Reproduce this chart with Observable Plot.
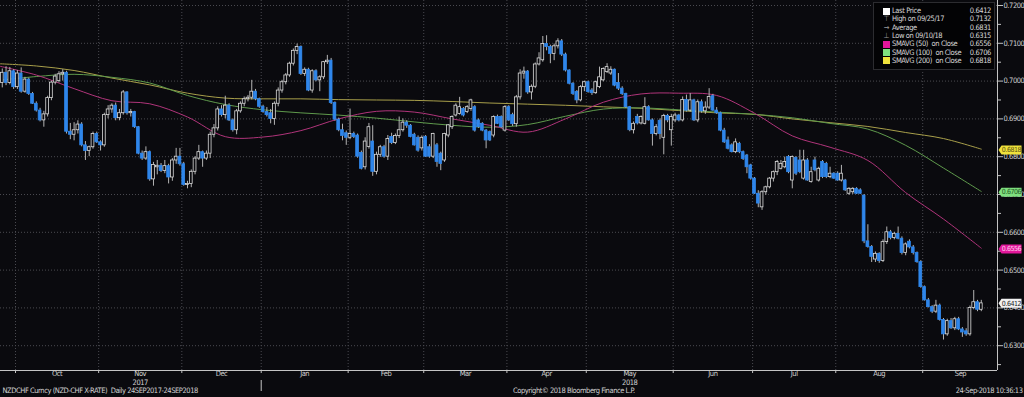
<!DOCTYPE html>
<html><head><meta charset="utf-8">
<script src="https://cdn.jsdelivr.net/npm/d3@7"></script>
<script src="https://cdn.jsdelivr.net/npm/@observablehq/plot@0.6"></script>
<style>
html,body{margin:0;padding:0;background:#0a0a0e;}
#wrap{position:relative;width:1024px;height:397px;overflow:hidden;}
#chart svg text{letter-spacing:-0.45px;}
#legend{position:absolute;left:873px;top:2px;width:120px;height:66px;background:#030305;border:1px solid #2c2c30;
 font-family:"Liberation Sans Narrow","DejaVu Sans Condensed","Liberation Sans",sans-serif;font-size:7.5px;color:#d8d8d8;letter-spacing:-0.4px;}
#legend .row{position:absolute;left:0;right:0;height:8px;line-height:8px;white-space:pre;}
#legend .sw{position:absolute;left:9px;top:0.5px;width:7px;height:7px;}
#legend .gl{position:absolute;left:9px;top:0;width:7px;text-align:center;color:#9a9a9a;letter-spacing:0;}
#legend .lb{position:absolute;left:18px;}
#legend .vl{position:absolute;right:3px;}
</style></head>
<body><div id="wrap"><div id="chart"></div><div id="legend"></div></div>
<script>
// ---- data ----
const open = [
.7132,.6995,.7022,.6995,.7026,.6984,.7020,.6972,.7004,.6966,
.6940,.6922,.6896,.6912,.6955,.6996,.7000,.7018,.7022,.6866,
.6858,.6870,.6885,.6830,.6815,.6825,.6860,.6838,.6830,.6910,
.6925,.6935,.6902,.6915,.6970,.6915,.6918,.6878,.6808,.6795,
.6812,.6740,.6772,.6776,.6762,.6775,.6745,.6790,.6800,.6780,
.6725,.6728,.6760,.6795,.6812,.6795,.6808,.6858,.6875,.6925,
.6910,.6935,.6896,.6870,.6920,.6940,.6952,.6956,.6972,.6952,
.6932,.6918,.6915,.6900,.6940,.6975,.6997,.7015,.7046,.7080,
.7090,.7019,.7030,.6975,.7026,.7002,.7010,.7050,.7054,.6942,
.6898,.6870,.6862,.6850,.6860,.6856,.6810,.6772,.6826,.6840,
.6760,.6805,.6825,.6800,.6852,.6836,.6855,.6870,.6890,.6882,
.6858,.6850,.6822,.6852,.6825,.6800,.6830,.6808,.6790,.6856,
.6878,.6909,.6913,.6926,.6918,.6926,.6931,.6896,.6887,.6869,
.6865,.6856,.6905,.6905,.6869,.6931,.6910,.6886,.6957,.7020,
.7025,.6970,.6985,.7044,.7055,.7098,.7090,.7072,.7092,.7105,
.7070,.7028,.6993,.6971,.6949,.6984,.6997,.6975,.6968,.6984,
.7002,.7024,.7020,.7030,.6995,.6980,.6966,.6931,.6870,.6905,
.6888,.6887,.6931,.6896,.6860,.6895,.6850,.6908,.6870,.6896,
.6909,.6896,.6950,.6922,.6949,.6896,.6944,.6920,.6930,.6960,
.6922,.6915,.6869,.6843,.6830,.6812,.6834,.6812,.6803,.6777,
.6742,.6702,.6666,.6706,.6719,.6742,.6759,.6768,.6772,.6799,
.6737,.6797,.6790,.6742,.6790,.6733,.6790,.6737,.6786,.6781,
.6746,.6755,.6755,.6737,.6737,.6702,.6706,.6715,.6711,.6697,
.6576,.6561,.6528,.6543,.6524,.6574,.6600,.6585,.6596,.6583,
.6545,.6575,.6560,.6545,.6521,.6455,.6420,.6402,.6390,.6406,
.6368,.6330,.6365,.6346,.6370,.6343,.6338,.6330,.6400,.6415,
.6395];
const high = [
.7132,.7032,.7038,.7036,.7030,.7028,.7035,.7010,.7008,.6970,
.6945,.6928,.6920,.6960,.7000,.7018,.7025,.7030,.7026,.6888,
.6890,.6895,.6890,.6840,.6828,.6865,.6865,.6842,.6915,.6935,
.6940,.6942,.6925,.6975,.6972,.6925,.6920,.6880,.6815,.6826,
.6815,.6785,.6790,.6782,.6790,.6780,.6795,.6822,.6822,.6785,
.6735,.6765,.6800,.6830,.6815,.6815,.6865,.6885,.6932,.6935,
.6960,.6940,.6900,.6925,.6945,.6958,.6962,.7002,.6978,.6955,
.6936,.6930,.6925,.6945,.6982,.7002,.7020,.7050,.7085,.7098,
.7093,.7035,.7034,.7030,.7030,.7014,.7052,.7068,.7060,.6945,
.6902,.6886,.6868,.6926,.6865,.6860,.6815,.6850,.6888,.6882,
.6812,.6830,.6830,.6856,.6862,.6860,.6905,.6900,.6895,.6885,
.6862,.6855,.6855,.6856,.6832,.6862,.6835,.6812,.6862,.6885,
.6908,.6940,.6957,.6930,.6935,.6952,.6935,.6900,.6890,.6872,
.6868,.6908,.6910,.6908,.6935,.6935,.6915,.6962,.7030,.7037,
.7028,.6990,.7048,.7075,.7118,.7120,.7095,.7098,.7112,.7110,
.7074,.7030,.6996,.6975,.6988,.7000,.7000,.6980,.7000,.7037,
.7035,.7046,.7038,.7032,.7020,.6985,.6968,.6933,.6892,.6912,
.6908,.6956,.6935,.6900,.6885,.6900,.6912,.6912,.6912,.6915,
.6912,.6958,.6963,.6967,.6952,.6950,.6950,.6945,.6980,.6965,
.6930,.6918,.6875,.6852,.6834,.6847,.6838,.6815,.6806,.6780,
.6745,.6710,.6710,.6722,.6745,.6762,.6790,.6790,.6799,.6803,
.6802,.6800,.6817,.6817,.6795,.6772,.6799,.6772,.6790,.6785,
.6772,.6758,.6760,.6777,.6740,.6718,.6718,.6718,.6715,.6700,
.6620,.6565,.6548,.6546,.6580,.6614,.6605,.6600,.6614,.6588,
.6572,.6580,.6565,.6548,.6525,.6458,.6425,.6406,.6420,.6410,
.6372,.6370,.6372,.6375,.6375,.6348,.6345,.6405,.6446,.6420,
.6420];
const low = [
.6985,.6982,.6988,.6990,.6978,.6978,.6968,.6968,.6962,.6938,
.6918,.6892,.6878,.6905,.6948,.6990,.6995,.7000,.6860,.6845,
.6842,.6860,.6826,.6790,.6800,.6820,.6835,.6815,.6825,.6900,
.6915,.6895,.6895,.6910,.6910,.6905,.6875,.6805,.6790,.6790,
.6735,.6722,.6752,.6758,.6755,.6728,.6735,.6780,.6775,.6722,
.6715,.6718,.6752,.6790,.6772,.6790,.6795,.6850,.6868,.6905,
.6900,.6893,.6865,.6858,.6915,.6932,.6945,.6950,.6948,.6928,
.6915,.6905,.6887,.6883,.6932,.6968,.6990,.7010,.7040,.7070,
.7015,.7012,.6972,.6968,.6998,.6972,.7004,.7044,.6938,.6894,
.6866,.6842,.6830,.6845,.6848,.6796,.6765,.6765,.6820,.6748,
.6752,.6798,.6796,.6790,.6832,.6832,.6848,.6865,.6875,.6850,
.6828,.6812,.6815,.6798,.6796,.6795,.6772,.6763,.6785,.6850,
.6872,.6905,.6910,.6905,.6914,.6920,.6865,.6875,.6866,.6821,
.6840,.6850,.6885,.6875,.6865,.6893,.6880,.6878,.6950,.7005,
.6965,.6950,.6980,.7040,.7050,.7080,.7046,.7054,.7085,.7065,
.7024,.6990,.6962,.6940,.6945,.6972,.6968,.6962,.6965,.6980,
.6998,.7020,.7015,.6985,.6975,.6962,.6928,.6866,.6860,.6884,
.6884,.6884,.6894,.6828,.6855,.6845,.6805,.6890,.6828,.6890,
.6892,.6892,.6918,.6918,.6893,.6890,.6915,.6912,.6925,.6920,
.6912,.6866,.6835,.6818,.6810,.6808,.6808,.6790,.6755,.6738,
.6700,.6665,.6658,.6698,.6715,.6733,.6750,.6765,.6768,.6755,
.6715,.6750,.6755,.6738,.6735,.6730,.6760,.6733,.6742,.6742,
.6742,.6740,.6735,.6733,.6708,.6698,.6700,.6700,.6700,.6570,
.6558,.6520,.6520,.6518,.6520,.6568,.6580,.6580,.6580,.6540,
.6538,.6556,.6540,.6518,.6452,.6418,.6400,.6385,.6385,.6365,
.6315,.6325,.6343,.6340,.6340,.6322,.6325,.6325,.6395,.6390,
.6390];
const close = [
.6995,.7022,.6995,.7026,.6984,.7020,.6972,.7004,.6966,.6940,
.6922,.6896,.6912,.6955,.6996,.7012,.7018,.7022,.6866,.6858,
.6870,.6885,.6830,.6815,.6825,.6860,.6838,.6830,.6910,.6925,
.6935,.6902,.6915,.6970,.6915,.6918,.6878,.6808,.6795,.6812,
.6740,.6778,.6776,.6762,.6775,.6745,.6790,.6800,.6780,.6725,
.6728,.6760,.6795,.6812,.6795,.6808,.6858,.6875,.6925,.6910,
.6935,.6896,.6870,.6920,.6940,.6952,.6956,.6972,.6952,.6932,
.6918,.6910,.6900,.6940,.6975,.6997,.7015,.7046,.7080,.7090,
.7019,.7030,.6975,.7026,.7002,.7010,.7050,.7054,.6942,.6898,
.6870,.6855,.6850,.6860,.6852,.6800,.6768,.6840,.6878,.6760,
.6805,.6825,.6800,.6847,.6836,.6855,.6870,.6890,.6882,.6852,
.6830,.6816,.6850,.6800,.6800,.6860,.6786,.6781,.6860,.6883,
.6905,.6935,.6931,.6909,.6931,.6949,.6869,.6878,.6869,.6843,
.6843,.6905,.6887,.6878,.6931,.6896,.6886,.6957,.7020,.7025,
.6970,.6985,.7044,.7060,.7098,.7090,.7072,.7092,.7105,.7070,
.7028,.6993,.6966,.6949,.6984,.6997,.6971,.6968,.6997,.7010,
.7032,.7037,.7030,.6988,.6980,.6966,.6931,.6870,.6887,.6888,
.6905,.6931,.6896,.6860,.6878,.6860,.6908,.6896,.6905,.6909,
.6896,.6950,.6922,.6949,.6896,.6944,.6920,.6930,.6958,.6922,
.6915,.6869,.6838,.6821,.6812,.6838,.6812,.6794,.6772,.6742,
.6702,.6676,.6706,.6719,.6742,.6759,.6786,.6781,.6786,.6759,
.6799,.6755,.6759,.6790,.6737,.6759,.6764,.6768,.6746,.6746,
.6755,.6742,.6737,.6755,.6711,.6715,.6715,.6702,.6702,.6576,
.6561,.6535,.6543,.6524,.6574,.6600,.6585,.6596,.6583,.6545,
.6568,.6560,.6545,.6521,.6455,.6420,.6402,.6390,.6406,.6368,
.6330,.6365,.6346,.6370,.6343,.6335,.6330,.6400,.6415,.6395,
.6412];
// moving averages, read every 10 trading days
const smaStep = 10;
const sma50  = [.7040,.7016,.6980,.6948,.6940,.6905,.6853,.6852,.6869,.6900,.6920,.6918,.6900,.6883,.6865,.6900,.6944,.6966,.6968,.6962,.6915,.6855,.6825,.6790,.6705,.6635,.6558];
const sma100 = [.7002,.7012,.7018,.7010,.6995,.6962,.6938,.6924,.6916,.6910,.6902,.6892,.6883,.6878,.6885,.6907,.6926,.6929,.6924,.6918,.6912,.6903,.6888,.6873,.6830,.6770,.6708];
const sma200 = [.7046,.7040,.7028,.7008,.6990,.6968,.6955,.6953,.6953,.6951,.6950,.6949,.6946,.6942,.6939,.6936,.6932,.6928,.6922,.6916,.6912,.6900,.6890,.6880,.6864,.6848,.6820];
const startDate = "2017-09-25";
const monthNames = ["Jan","Feb","Mar","Apr","May","Jun","Jul","Aug","Sep","Oct","Nov","Dec"];
const yearLabels = ["2017","2018"];
const yearUnderMonth = ["Nov","May"];
const yTickLabels = [0.63,0.64,0.65,0.66,0.67,0.68,0.69,0.70,0.71,0.72];
const tagValues = [0.6818,0.6706,0.6556,0.6412];
const tagColors = ["#efe23c","#7fe07f","#e2179a","#f2f2f2"];
const tagText = ["#5a5210","#1f5a1f","#ffd0ee","#222222"];
const legendLabels = ["Last Price","High on 09/25/17","Average","Low on 09/10/18","SMAVG (50)  on Close","SMAVG (100)  on Close","SMAVG (200)  on Close"];
const legendValues = ["0.6412","0.7132","0.6831","0.6315","0.6556","0.6706","0.6818"];
const legendMarks = ["#ffffff","\u22A4","\u2192","\u22A5","#e2179a","#7fe07f","#efe23c"];
const footer = ["NZDCHF Curncy (NZD-CHF X-RATE)  Daily 24SEP2017-24SEP2018","Copyright\u00A9 2018 Bloomberg Finance L.P.","24-Sep-2018 10:36:13"];

// ---- derived ----
const BG = "#0a0a0e";
const FONT = '"Liberation Sans Narrow","DejaVu Sans Condensed","Liberation Sans",sans-serif';
const dates = [];
for (let d = new Date(startDate + "T00:00:00Z"); dates.length < close.length; d.setUTCDate(d.getUTCDate() + 1)) {
  const w = d.getUTCDay(); if (w !== 0 && w !== 6) dates.push(new Date(d));
}
const candles = close.map((c, i) => ({i, o: open[i], h: high[i], l: low[i], c, up: c >= open[i]}));
function weekdaysIn(y, m) { let n = 0; for (let d = new Date(Date.UTC(y, m, 1)); d.getUTCMonth() === m; d.setUTCDate(d.getUTCDate() + 1)) { const w = d.getUTCDay(); if (w !== 0 && w !== 6) n++; } return n; }
const months = [];
for (let i = 1; i < dates.length; i++) {
  if (dates[i].getUTCMonth() !== dates[i - 1].getUTCMonth()) {
    const y = dates[i].getUTCFullYear(), m = dates[i].getUTCMonth();
    months.push({bound: i - 0.5, center: i - 0.5 + weekdaysIn(y, m) / 2, name: monthNames[m], year: y, newYear: m === 0});
  }
}
const monthBounds = months.map(d => d.bound);
const nameAt = new Map(months.map(d => [d.center, d.name]));
const yearBounds = months.filter(d => d.newYear).map(d => d.bound);
const yearRows = yearLabels.map((y, k) => ({year: y, x: months.find(m => m.name === yearUnderMonth[k] && String(m.year) === y).center}));
const yMinor = yTickLabels.map(v => +(v - 0.005).toFixed(4));
const smaPts = (arr) => arr.map((v, k) => ({i: k * smaStep, v}));
const tags = tagValues.map((v, k) => ({value: v, bg: tagColors[k], tc: tagText[k]}));
const tagShape = {draw(ctx) { ctx.moveTo(-12, 0); ctx.lineTo(-9, -4.5); ctx.lineTo(11, -4.5); ctx.lineTo(11, 4.5); ctx.lineTo(-9, 4.5); ctx.closePath(); }};

const yMin = 0.62344, yMax = 0.72132, xMin = 0.53, xMax = 264.29;
const axisCol = "#c4c4c4", txtCol = "#d2d2d2", gridCol = "#4a4a50";

const chart = Plot.plot({
  width: 1024, height: 397,
  marginLeft: 0, marginRight: 27, marginTop: 0, marginBottom: 27,
  style: {background: BG, color: txtCol, fontFamily: FONT, fontSize: "7.5px", overflow: "visible"},
  x: {type: "linear", domain: [xMin, xMax]},
  y: {domain: [yMin, yMax]},
  color: {type: "identity"},
  marks: [
    Plot.gridY(yTickLabels, {stroke: gridCol, strokeOpacity: 1, strokeDasharray: "1,2"}),
    Plot.gridX(monthBounds, {stroke: gridCol, strokeOpacity: 1, strokeDasharray: "1,2"}),
    Plot.line(smaPts(sma200), {x: "i", y: "v", stroke: "#a89f4a", strokeWidth: 1, curve: "catmull-rom", clip: true}),
    Plot.line(smaPts(sma100), {x: "i", y: "v", stroke: "#5f9a4c", strokeWidth: 1, curve: "catmull-rom", clip: true}),
    Plot.line(smaPts(sma50), {x: "i", y: "v", stroke: "#b0347a", strokeWidth: 1, curve: "catmull-rom", clip: true}),
    Plot.ruleX(candles, {x: "i", y1: "l", y2: "h", stroke: "#b4b4b4", strokeWidth: 1, clip: true}),
    Plot.rect(candles, {x1: d => d.i - 0.37, x2: d => d.i + 0.37, y1: "o", y2: "c",
      fill: d => d.up ? BG : "#2f86ea", stroke: d => d.up ? "#dcdcdc" : "#2f86ea", strokeWidth: 0.8, clip: true}),
    Plot.ruleY([yMin], {stroke: axisCol}),
    Plot.ruleX([xMax], {stroke: axisCol}),
    Plot.axisY(yTickLabels, {anchor: "right", tickSize: 5, tickPadding: 1, tickFormat: d => d.toFixed(4), stroke: axisCol, fill: txtCol, label: null}),
    Plot.axisY(yMinor, {anchor: "right", tickSize: 3, tickFormat: () => "", stroke: axisCol, label: null}),
    Plot.axisX(monthBounds, {anchor: "bottom", tickSize: 3, tickFormat: () => "", stroke: axisCol, label: null}),
    Plot.axisX(months.map(d => d.center), {anchor: "bottom", tickSize: 0, tickPadding: 0, tickFormat: v => nameAt.get(v), fill: txtCol, label: null}),
    Plot.axisX(yearBounds, {anchor: "bottom", tickSize: 11, dy: 10, tickFormat: () => "", stroke: axisCol, label: null}),
    Plot.text(yearRows, {x: "x", text: "year", frameAnchor: "bottom", dy: 14, fill: txtCol}),
    Plot.text([footer[0]], {text: d => d, frameAnchor: "bottom-left", dx: 2, dy: 22.5, textAnchor: "start", fill: txtCol}),
    Plot.text([footer[1]], {text: d => d, frameAnchor: "bottom", dx: 14, dy: 22.5, textAnchor: "start", fill: txtCol}),
    Plot.text([footer[2]], {text: d => d, frameAnchor: "bottom-right", dx: 25, dy: 22.5, textAnchor: "end", fill: txtCol}),
    Plot.dot(tags, {y: "value", frameAnchor: "right", dx: 13, symbol: tagShape, r: 4, fill: "bg", stroke: "none"}),
    Plot.text(tags, {y: "value", text: d => d.value.toFixed(4), frameAnchor: "right", dx: 14, textAnchor: "middle", fill: "tc", fontSize: 7})
  ]
});
document.getElementById("chart").appendChild(chart);

// legend overlay
const lg = document.getElementById("legend");
legendLabels.forEach((lab, k) => {
  const row = document.createElement("div");
  row.className = "row";
  row.style.top = (4 + k * 8.3) + "px";
  const mk = legendMarks[k];
  if (mk.startsWith("#")) {
    const s = document.createElement("span"); s.className = "sw"; s.style.background = mk; row.appendChild(s);
  } else {
    const s = document.createElement("span"); s.className = "gl"; s.textContent = mk; row.appendChild(s);
  }
  const a = document.createElement("span"); a.className = "lb"; a.textContent = lab; row.appendChild(a);
  const b = document.createElement("span"); b.className = "vl"; b.textContent = legendValues[k]; row.appendChild(b);
  lg.appendChild(row);
});
</script>
</body></html>
